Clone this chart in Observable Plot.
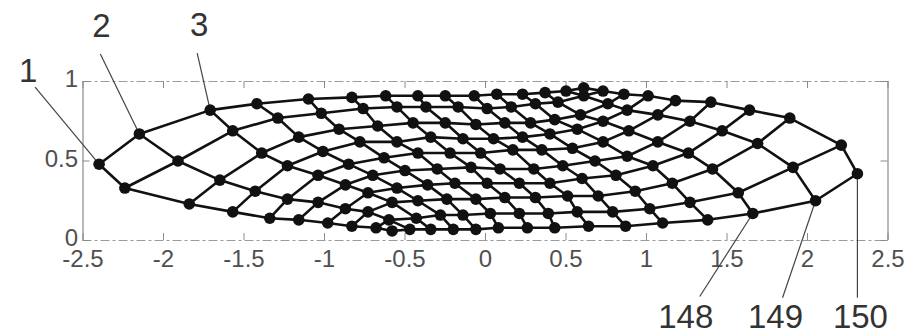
<!DOCTYPE html>
<html>
<head>
<meta charset="utf-8">
<script src="https://cdn.jsdelivr.net/npm/d3@7"></script>
<script src="https://cdn.jsdelivr.net/npm/@observablehq/plot@0.6"></script>
<style>
  html, body { margin: 0; padding: 0; background: #fff; }
  #chart { width: 911px; height: 335px; }
</style>
</head>
<body>
<div id="chart"></div>
<script>
// Mesh nodes 1..150, ordered by node number (10 rows of 15 nodes)
const nodeX = [
  -2.40, -2.15, -1.71, -1.42, -1.10, -0.83, -0.62, -0.42, -0.25, -0.07, 0.07, 0.23, 0.37, 0.50, 0.61,
  -2.24, -1.91, -1.57, -1.29, -1.02, -0.76, -0.55, -0.37, -0.17, 0.01, 0.16, 0.31, 0.45, 0.61, 0.73,
  -1.84, -1.65, -1.39, -1.16, -0.91, -0.67, -0.45, -0.25, -0.06, 0.12, 0.28, 0.43, 0.59, 0.76, 0.86,
  -1.57, -1.43, -1.23, -1.01, -0.78, -0.55, -0.34, -0.14, 0.05, 0.23, 0.40, 0.57, 0.73, 0.88, 1.01,
  -1.34, -1.23, -1.04, -0.85, -0.63, -0.42, -0.22, -0.03, 0.17, 0.35, 0.54, 0.73, 0.89, 1.07, 1.18,
  -1.16, -1.04, -0.87, -0.70, -0.50, -0.30, -0.09, 0.09, 0.30, 0.48, 0.68, 0.88, 1.07, 1.27, 1.40,
  -0.98, -0.87, -0.73, -0.55, -0.36, -0.19, 0.01, 0.21, 0.40, 0.60, 0.81, 1.04, 1.26, 1.47, 1.64,
  -0.83, -0.73, -0.58, -0.42, -0.24, -0.06, 0.12, 0.31, 0.51, 0.70, 0.93, 1.16, 1.41, 1.69, 1.89,
  -0.68, -0.60, -0.43, -0.28, -0.14, 0.03, 0.21, 0.39, 0.57, 0.79, 1.02, 1.27, 1.57, 1.91, 2.21,
  -0.58, -0.47, -0.34, -0.20, -0.06, 0.08, 0.26, 0.43, 0.64, 0.87, 1.10, 1.38, 1.66, 2.05, 2.31
];
const nodeY = [
  0.48, 0.67, 0.82, 0.86, 0.89, 0.90, 0.91, 0.91, 0.91, 0.91, 0.92, 0.92, 0.93, 0.94, 0.96,
  0.33, 0.50, 0.69, 0.77, 0.80, 0.83, 0.84, 0.84, 0.84, 0.83, 0.84, 0.86, 0.87, 0.91, 0.94,
  0.23, 0.38, 0.55, 0.65, 0.70, 0.72, 0.74, 0.74, 0.73, 0.74, 0.74, 0.76, 0.79, 0.86, 0.92,
  0.18, 0.31, 0.47, 0.56, 0.62, 0.62, 0.65, 0.64, 0.64, 0.65, 0.67, 0.70, 0.75, 0.82, 0.91,
  0.14, 0.26, 0.41, 0.48, 0.52, 0.55, 0.55, 0.55, 0.57, 0.57, 0.58, 0.62, 0.69, 0.79, 0.88,
  0.13, 0.24, 0.35, 0.41, 0.44, 0.45, 0.46, 0.45, 0.45, 0.47, 0.50, 0.53, 0.62, 0.75, 0.87,
  0.11, 0.20, 0.30, 0.33, 0.35, 0.36, 0.36, 0.36, 0.36, 0.39, 0.41, 0.47, 0.55, 0.69, 0.82,
  0.09, 0.18, 0.24, 0.25, 0.26, 0.26, 0.27, 0.27, 0.28, 0.28, 0.31, 0.36, 0.45, 0.61, 0.77,
  0.08, 0.13, 0.14, 0.16, 0.16, 0.17, 0.17, 0.17, 0.18, 0.18, 0.20, 0.24, 0.30, 0.46, 0.60,
  0.06, 0.07, 0.07, 0.07, 0.07, 0.08, 0.08, 0.08, 0.09, 0.09, 0.11, 0.13, 0.17, 0.25, 0.42
];
const nodesPerRow = 15;

// Labelled nodes
const labelNodes = [1, 2, 3, 148, 149, 150];
const labelTexts = ["1", "2", "3", "148", "149", "150"];

// Axis ticks
const xTicks = [-2.5, -2, -1.5, -1, -0.5, 0, 0.5, 1, 1.5, 2, 2.5];
const xTickLabels = ["-2.5", "-2", "-1.5", "-1", "-0.5", "0", "0.5", "1", "1.5", "2", "2.5"];
const yTicks = [0, 0.5, 1];
const yTickLabels = ["0", "0.5", "1"];

// ---- build tables ----
const nodes = nodeX.map((x, k) => ({
  n: k + 1,
  row: Math.floor(k / nodesPerRow),
  col: k % nodesPerRow,
  x, y: nodeY[k]
}));

const W = 911, H = 335;
const mL = 82.5, mR = 23.5, mT = 81, mB = 95;
const xS = Plot.scale({x: {domain: [-2.5, 2.5], range: [mL, W - mR]}});
const yS = Plot.scale({y: {domain: [0, 1], range: [H - mB, mT]}});

// pixel offsets of leader-line ends and label centres from each labelled node
const leaderOffsets = [[-64, -77], [-39, -80], [-13, -57], [-53, 83], [-33, 97], [0, 124]];
const textOffsets = [[-71, -93], [-38, -108], [-11, -85], [-67, 104], [-40, 117], [3, 144]];

const labels = labelNodes.map((n, k) => {
  const nd = nodes[n - 1];
  const px = xS.apply(nd.x), py = yS.apply(nd.y);
  return {
    text: labelTexts[k],
    x1: nd.x, y1: nd.y,
    x2: xS.invert(px + leaderOffsets[k][0]),
    y2: yS.invert(py + leaderOffsets[k][1]),
    tx: xS.invert(px + textOffsets[k][0]),
    ty: yS.invert(py + textOffsets[k][1])
  };
});

// tick length (7 px) expressed in data units
const tickPx = 7;
const tx0 = xS.invert(mL + tickPx) - (-2.5);
const ty0 = yS.invert(H - mB - tickPx);
const xt = xTicks.map((v, k) => ({v, t: xTickLabels[k]}));
const yt = yTicks.map((v, k) => ({v, t: yTickLabels[k]}));

const font = "'Liberation Sans', Arial, Helvetica, sans-serif";
const axisGrey = "#8a8a8a";

const chart = Plot.plot({
  width: W, height: H,
  marginLeft: mL, marginRight: mR, marginTop: mT, marginBottom: mB,
  x: {domain: [-2.5, 2.5], axis: null},
  y: {domain: [0, 1], axis: null},
  style: {background: "#fff", fontFamily: font, overflow: "visible"},
  marks: [
    // frame
    Plot.ruleY([0, 1], {stroke: "#9a9a9a", strokeWidth: 1.2, strokeDasharray: "9,3,3,3"}),
    Plot.ruleX([-2.5, 2.5], {y1: 0, y2: 1, stroke: axisGrey, strokeWidth: 1.2}),
    // inward ticks
    Plot.ruleX(xt, {x: "v", y1: 0, y2: ty0, stroke: axisGrey}),
    Plot.ruleX(xt, {x: "v", y1: 1, y2: 1 - ty0, stroke: axisGrey}),
    Plot.ruleY(yt, {y: "v", x1: -2.5, x2: -2.5 + tx0, stroke: axisGrey}),
    Plot.ruleY(yt, {y: "v", x1: 2.5, x2: 2.5 - tx0, stroke: axisGrey}),
    // tick labels
    Plot.text(xt, {x: "v", y: 0, text: "t", dy: 19, fontSize: 24, fill: "#505050"}),
    Plot.text(yt, {x: -2.5, y: "v", text: "t", dx: -5, dy: -2, textAnchor: "end", fontSize: 24, fill: "#505050"}),
    // mesh lines: rows and columns
    Plot.line(nodes, {x: "x", y: "y", z: "row", stroke: "#111", strokeWidth: 2.6}),
    Plot.line(nodes, {x: "x", y: "y", z: "col", stroke: "#111", strokeWidth: 2.6}),
    // leader lines
    Plot.link(labels, {x1: "x1", y1: "y1", x2: "x2", y2: "y2", stroke: "#444", strokeWidth: 1.2}),
    // nodes
    Plot.dot(nodes, {x: "x", y: "y", r: 5.8, fill: "#111", stroke: "none"}),
    // node labels
    Plot.text(labels, {x: "tx", y: "ty", text: "text", fontSize: 33, fill: "#333"})
  ]
});
document.getElementById("chart").appendChild(chart);
</script>
</body>
</html>
